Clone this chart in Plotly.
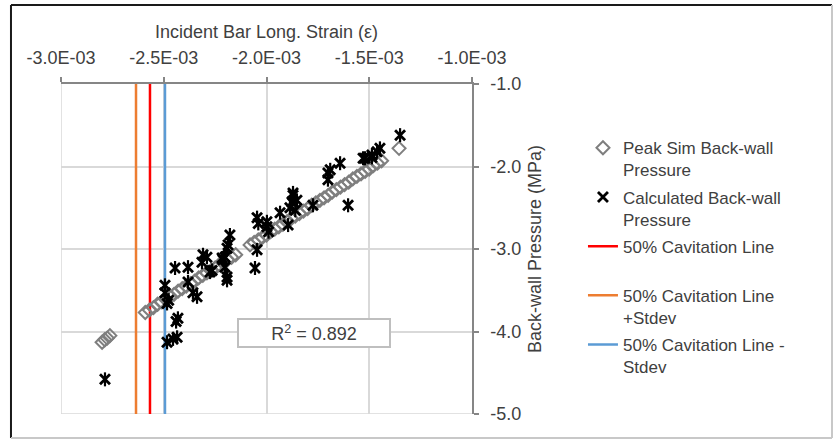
import plotly.graph_objects as go

# ---------------- data ----------------
x_tick_vals = [-3.0e-3, -2.5e-3, -2.0e-3, -1.5e-3, -1.0e-3]
x_tick_text = ["-3.0E-03", "-2.5E-03", "-2.0E-03", "-1.5E-03", "-1.0E-03"]
y_tick_vals = [-1.0, -2.0, -3.0, -4.0, -5.0]
y_tick_text = ["-1.0", "-2.0", "-3.0", "-4.0", "-5.0"]

sim_x = [-2.800e-3, -2.787e-3, -2.775e-3, -2.762e-3,
         -2.590e-3, -2.570e-3, -2.550e-3, -2.530e-3, -2.510e-3, -2.490e-3, -2.470e-3, -2.450e-3,
         -2.430e-3, -2.410e-3, -2.390e-3, -2.370e-3, -2.350e-3, -2.330e-3, -2.310e-3, -2.290e-3,
         -2.270e-3, -2.250e-3, -2.230e-3, -2.210e-3, -2.190e-3, -2.170e-3, -2.150e-3,
         -2.080e-3, -2.060e-3, -2.040e-3, -2.020e-3, -2.000e-3, -1.980e-3, -1.960e-3, -1.940e-3,
         -1.920e-3, -1.900e-3, -1.880e-3, -1.860e-3, -1.840e-3, -1.820e-3, -1.800e-3, -1.780e-3,
         -1.760e-3, -1.740e-3, -1.720e-3, -1.700e-3, -1.680e-3, -1.660e-3, -1.640e-3, -1.620e-3,
         -1.600e-3, -1.580e-3, -1.560e-3, -1.540e-3, -1.520e-3, -1.500e-3, -1.480e-3, -1.460e-3,
         -1.440e-3, -1.355e-3]
sim_y = [-4.13, -4.10, -4.08, -4.05,
         -3.77, -3.74, -3.71, -3.67, -3.64, -3.61, -3.58, -3.55,
         -3.51, -3.48, -3.45, -3.42, -3.39, -3.35, -3.32, -3.29,
         -3.26, -3.23, -3.19, -3.16, -3.13, -3.10, -3.07,
         -2.95, -2.92, -2.89, -2.86, -2.83, -2.79, -2.76, -2.73,
         -2.70, -2.67, -2.63, -2.60, -2.57, -2.54, -2.51, -2.47,
         -2.44, -2.41, -2.38, -2.35, -2.31, -2.28, -2.25, -2.22,
         -2.19, -2.15, -2.12, -2.09, -2.06, -2.03, -1.99, -1.96,
         -1.93, -1.78]

calc_x = [-2.786e-3, -2.484e-3, -2.455e-3, -2.435e-3, -2.431e-3, -2.440e-3, -2.484e-3, -2.476e-3,
          -2.494e-3, -2.494e-3, -2.445e-3, -2.382e-3, -2.382e-3, -2.358e-3, -2.338e-3, -2.309e-3,
          -2.314e-3, -2.275e-3, -2.216e-3, -2.202e-3, -2.202e-3, -2.192e-3, -2.187e-3, -2.178e-3,
          -2.192e-3, -2.212e-3, -2.192e-3, -2.290e-3, -2.265e-3, -2.046e-3, -2.056e-3, -2.046e-3,
          -2.040e-3, -1.998e-3, -1.998e-3, -1.990e-3, -1.934e-3, -1.895e-3, -1.871e-3, -1.876e-3,
          -1.852e-3, -1.886e-3, -1.871e-3, -1.860e-3, -1.774e-3, -1.701e-3, -1.701e-3, -1.690e-3,
          -1.642e-3, -1.603e-3, -1.521e-3, -1.487e-3, -1.462e-3, -1.448e-3, -1.530e-3, -1.487e-3,
          -1.350e-3]
calc_y = [-4.58, -4.13, -4.09, -4.07, -3.84, -3.88, -3.66, -3.62,
          -3.44, -3.53, -3.23, -3.22, -3.40, -3.53, -3.58, -3.07,
          -3.16, -3.28, -3.11, -3.10, -3.22, -3.38, -2.95, -2.83,
          -2.99, -3.13, -3.34, -3.10, -3.26, -3.01, -3.23, -2.62,
          -2.69, -2.73, -2.67, -2.79, -2.56, -2.71, -2.32, -2.43,
          -2.41, -2.50, -2.35, -2.53, -2.47, -2.08, -2.16, -2.04,
          -1.96, -2.47, -1.90, -1.86, -1.82, -1.78, -1.90, -1.89,
          -1.62]

cav_line = -2.567e-3
cav_plus = -2.635e-3
cav_minus = -2.494e-3
x_range = [-3.0e-3, -1.0e-3]
y_range = [-5.0, -1.0]

r2_text = "R<sup>2</sup> = 0.892"
r2_pos = (-1.769e-3, -4.018)

FONT = "Liberation Sans, Arial, sans-serif"
TXT = "#404040"
GRID = "#d9d9d9"

fig = go.Figure()

# vertical cavitation lines (drawn first, under markers)
fig.add_trace(go.Scatter(x=[cav_line, cav_line], y=y_range, mode="lines",
                         line=dict(color="#FF0000", width=2.5),
                         name="50% Cavitation Line<br>\u00a0", legendrank=3, legendgroup="c"))
fig.add_trace(go.Scatter(x=[cav_plus, cav_plus], y=y_range, mode="lines",
                         line=dict(color="#ED7D31", width=2.5),
                         name="50% Cavitation Line<br>+Stdev", legendrank=4, legendgroup="d"))
fig.add_trace(go.Scatter(x=[cav_minus, cav_minus], y=y_range, mode="lines",
                         line=dict(color="#5B9BD5", width=2.5),
                         name="50% Cavitation Line -<br>Stdev", legendrank=5, legendgroup="e"))

fig.add_trace(go.Scatter(x=sim_x, y=sim_y, mode="markers",
                         marker=dict(symbol="diamond-open", size=10, color="#7f7f7f",
                                     line=dict(width=2, color="#7f7f7f")),
                         name="Peak Sim Back-wall<br>Pressure", legendrank=1, legendgroup="a"))
fig.add_trace(go.Scatter(x=calc_x, y=calc_y, mode="markers",
                         marker=dict(symbol="x-thin-open", size=10, color="#000000",
                                     line=dict(width=2.8, color="#000000")),
                         name="Calculated Back-wall<br>Pressure", legendrank=2, legendgroup="b"))
fig.add_trace(go.Scatter(x=calc_x, y=calc_y, mode="markers",
                         marker=dict(symbol="line-ns-open", size=10, color="#000000",
                                     line=dict(width=2.2, color="#000000")),
                         showlegend=False, legendgroup="b", hoverinfo="skip"))

fig.add_annotation(x=r2_pos[0], y=r2_pos[1], xref="x", yref="y", text=r2_text,
                   showarrow=False, font=dict(family=FONT, size=18, color=TXT),
                   bgcolor="white", bordercolor="#bfbfbf", borderwidth=2,
                   width=148, height=24, borderpad=1)

# boundary gridlines (left and bottom edges of the plot area)
fig.add_shape(type="line", xref="x", yref="y", x0=x_range[0], x1=x_range[0], y0=y_range[0], y1=y_range[1],
              line=dict(color=GRID, width=1.5), layer="below")
fig.add_shape(type="line", xref="x", yref="y", x0=x_range[0], x1=x_range[1], y0=y_range[0], y1=y_range[0],
              line=dict(color=GRID, width=1.5), layer="below")

# outer frame
fig.add_shape(type="line", xref="paper", yref="paper", x0=-0.1217, x1=-0.1217, y0=-0.0727, y1=1.2394,
              line=dict(color="#1a1a1a", width=2))
fig.add_shape(type="line", xref="paper", yref="paper", x0=-0.1217, x1=1.8759, y0=1.2394, y1=1.2394,
              line=dict(color="#1a1a1a", width=2))
fig.add_shape(type="line", xref="paper", yref="paper", x0=1.8759, x1=1.8759, y0=-0.0727, y1=1.2394,
              line=dict(color="#c8c8c8", width=2))
fig.add_shape(type="line", xref="paper", yref="paper", x0=-0.1217, x1=1.8759, y0=-0.0727, y1=-0.0727,
              line=dict(color="#c8c8c8", width=2))

fig.update_layout(
    width=840, height=440,
    margin=dict(l=61, r=368, t=84, b=26, autoexpand=False),
    paper_bgcolor="white", plot_bgcolor="white",
    font=dict(family=FONT, size=18, color=TXT),
    showlegend=True,
    legend=dict(x=1.27, xanchor="left", y=0.86, yanchor="top",
                font=dict(family=FONT, size=17, color=TXT),
                valign="top", tracegroupgap=2, bgcolor="rgba(0,0,0,0)"),
    xaxis=dict(range=x_range, side="top", tickvals=x_tick_vals, ticktext=x_tick_text,
               showgrid=True, gridcolor=GRID, gridwidth=1.5,
               showline=True, linecolor="#868686", linewidth=1.5,
               ticks="outside", ticklen=5, tickcolor="#868686", tickwidth=1.5,
               ticklabelstandoff=6, zeroline=False,
               title=dict(text="Incident Bar Long. Strain (ε)", standoff=5,
                          font=dict(family=FONT, size=18, color=TXT))),
    yaxis=dict(range=y_range, side="right", tickvals=y_tick_vals, ticktext=y_tick_text,
               showgrid=True, gridcolor=GRID, gridwidth=1.5,
               showline=True, linecolor="#868686", linewidth=1.5,
               ticks="outside", ticklen=5, tickcolor="#868686", tickwidth=1.5,
               ticklabelstandoff=8, zeroline=False,
               title=dict(text="Back-wall Pressure (MPa)", standoff=8,
                          font=dict(family=FONT, size=18, color=TXT))),
)

fig.write_html("out.html")
